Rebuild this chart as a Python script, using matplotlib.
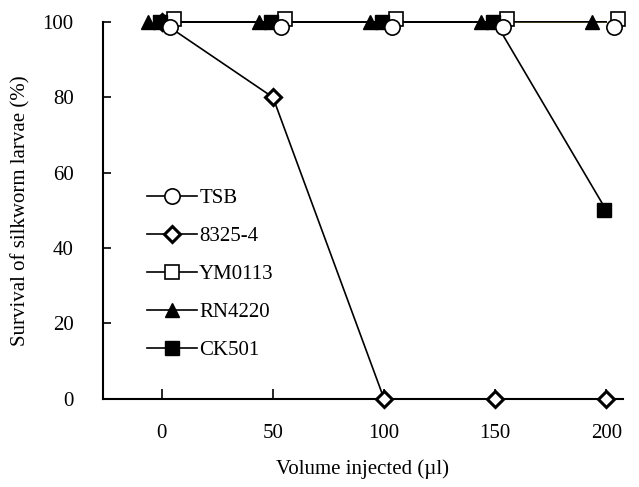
import matplotlib
matplotlib.use("Agg")
import matplotlib.pyplot as plt
import matplotlib.transforms as mtransforms
import numpy as np

plt.rcParams["font.family"] = ["Liberation Serif", "DejaVu Serif"]

volume = np.array([0, 50, 100, 150, 200])
tsb = [100, 100, 100, 100, 100]
s8325 = [100, 80, 0, 0, 0]
ym0113 = [100, 100, 100, 100, 100]
rn4220 = [100, 100, 100, 100, 100]
ck501 = [100, 100, 100, 100, 50]

fig = plt.figure(figsize=(6.39, 4.87), dpi=100)
ax = fig.add_axes([0.161, 0.181, 0.814, 0.774])


def shifted(dx, dy):
    # nudge markers so overlapping series stay visible (pixel offsets)
    return mtransforms.offset_copy(ax.transData, fig=fig, x=dx, y=dy, units="dots")


# (label, values, marker, size, face, edge width, pixel shift, z)
series = [
    ("8325-4", s8325, "D", 8.0, "white", 2.2, (0, 0), 2.8),
    ("YM0113", ym0113, "s", 10.5, "white", 1.2, (12, 3), 3),
    ("RN4220", rn4220, "^", 10.5, "black", 1.0, (-14, 0), 3.1),
    ("CK501", ck501, "s", 9.5, "black", 1.0, (-2, 0), 3.2),
    ("TSB", tsb, "o", 11.0, "white", 1.2, (8, -5), 5),
]

handles = {}
for name, vals, mk, ms, fc, mew, (dx, dy), z in series:
    ax.plot(volume, vals, "-", color="black", lw=1.2, zorder=2, clip_on=False)
    ax.plot(volume, vals, linestyle="none", marker=mk, ms=ms, mfc=fc, mec="black",
            mew=mew, zorder=z, clip_on=False, transform=shifted(dx, dy))
    handles[name] = ax.plot([], [], "-", color="black", lw=1.2, marker=mk, ms=ms,
                            mfc=fc, mec="black", mew=mew)[0]

# thin olive segment along the top between 150 and 200
ax.plot(volume[3:], ym0113[3:], "-", color="#4a4626", lw=1.2, zorder=2.5)

ax.set_xlim(-26.5, 207.5)
ax.set_ylim(0, 100)
ax.set_xticks(volume)
ax.set_yticks([0, 20, 40, 60, 80, 100])
ax.tick_params(axis="both", direction="in", labelsize=15, width=1.2)
ax.tick_params(axis="x", length=7, pad=18)
ax.tick_params(axis="y", length=6, pad=21)
for s in ["top", "right"]:
    ax.spines[s].set_visible(False)
for s in ["left", "bottom"]:
    ax.spines[s].set_linewidth(1.5)

ax.set_xlabel("Volume injected (µl)", fontsize=15, labelpad=12)
ax.set_ylabel("Survival of silkworm larvae (%)", fontsize=15, labelpad=9)

order = ["TSB", "8325-4", "YM0113", "RN4220", "CK501"]
ax.legend([handles[k] for k in order], order, loc="center left",
          bbox_to_anchor=(0.085, 0.33), frameon=False, fontsize=15,
          handlelength=2.4, handletextpad=0.1, labelspacing=0.88,
          borderpad=0, borderaxespad=0)

plt.savefig("out.png", dpi=100)
